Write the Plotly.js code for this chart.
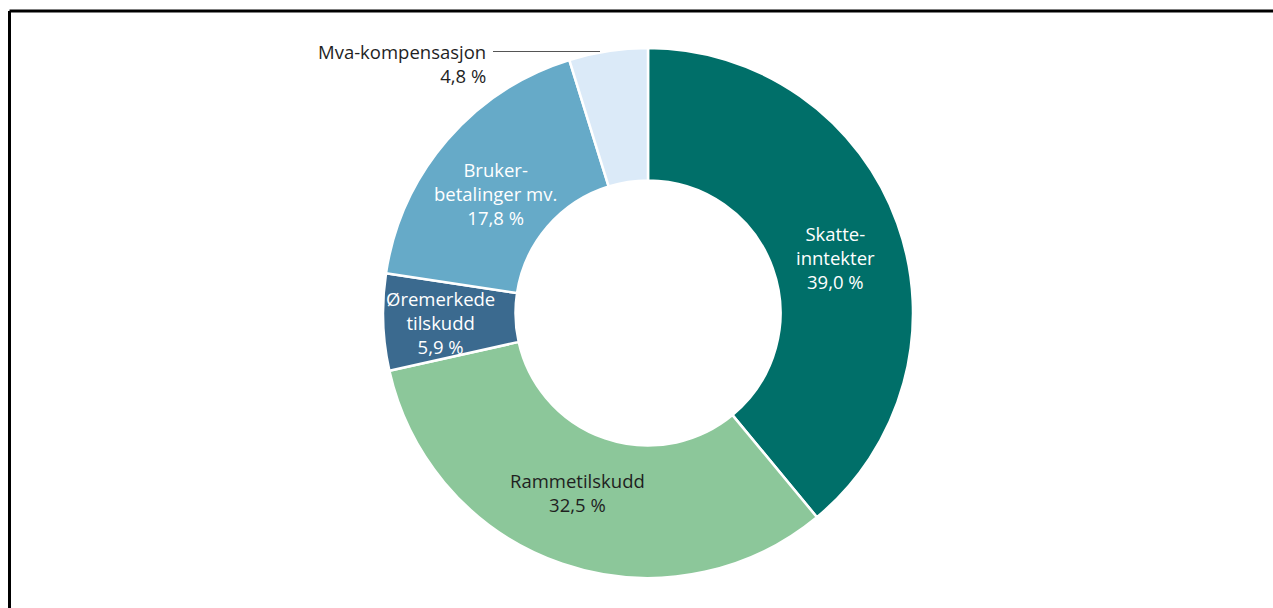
<!DOCTYPE html>
<html>
<head>
<meta charset="utf-8">
<script src="https://cdn.plot.ly/plotly-3.0.1.min.js"></script>
<style>
  html, body { margin: 0; padding: 0; background: #fff; }
  #chart { width: 1273px; height: 608px; }
</style>
</head>
<body>
<div id="chart"></div>
<script>
const categories = ["Skatteinntekter", "Rammetilskudd", "Øremerkede tilskudd", "Brukerbetalinger mv.", "Mva-kompensasjon"];
const values = [39.0, 32.5, 5.9, 17.8, 4.8];
const labelTexts = [
  "Skatte-<br>inntekter<br>39,0 %",
  "Rammetilskudd<br>32,5 %",
  "Øremerkede<br>tilskudd<br>5,9 %",
  "Bruker-<br>betalinger mv.<br>17,8 %",
  "Mva-kompensasjon<br>4,8 %"
];
const colors = ["#006f69", "#8cc79a", "#3b6a8f", "#66aac8", "#dbeaf8"];
const textColors = ["#ffffff", "#1f1f1f", "#ffffff", "#ffffff", "#1f1f1f"];

const W = 1273, H = 608;
const font = "Open Sans, sans-serif";
const fontSize = 18.5;

// label anchor points (pixel centres of each label block) and alignment
const labelPos = [
  { x: 835, y: 257, anchor: "center", align: "center" },
  { x: 577, y: 492, anchor: "center", align: "center" },
  { x: 440, y: 322, anchor: "center", align: "center" },
  { x: 495, y: 194, anchor: "center", align: "center" },
  { x: 488, y: 63, anchor: "right", align: "right" }
];

const trace = {
  type: "pie",
  labels: categories,
  values: values,
  textinfo: "none",
  hoverinfo: "label+value",
  sort: false,
  direction: "clockwise",
  rotation: 0,
  hole: 0.5,
  marker: { colors: colors, line: { color: "#ffffff", width: 2.5 } },
  domain: { x: [383 / W, 913 / W], y: [30 / H, 560 / H] },
  showlegend: false
};

const annotations = labelTexts.map((t, i) => {
  const p = labelPos[i];
  return {
    xref: "paper", yref: "paper",
    x: p.x / W, y: 1 - p.y / H,
    xanchor: p.anchor, yanchor: "middle", align: p.align,
    showarrow: false,
    text: t,
    font: { family: font, size: fontSize, color: textColors[i] }
  };
});

const layout = {
  width: W,
  height: H,
  margin: { l: 0, r: 0, t: 0, b: 0 },
  paper_bgcolor: "#ffffff",
  plot_bgcolor: "#ffffff",
  showlegend: false,
  shapes: [
    { type: "line", xref: "paper", yref: "paper", x0: 9.5 / W, x1: 1.01, y0: 1 - 11 / H, y1: 1 - 11 / H, line: { color: "#000", width: 3 } },
    { type: "line", xref: "paper", yref: "paper", x0: 9.5 / W, x1: 9.5 / W, y0: 1 - 11 / H, y1: -0.01, line: { color: "#000", width: 3 } },
    { type: "line", xref: "paper", yref: "paper", x0: 493 / W, x1: 600 / W, y0: 1 - 51.5 / H, y1: 1 - 51.5 / H, line: { color: "#555", width: 1.2 } }
  ],
  annotations: annotations
};

Plotly.newPlot("chart", [trace], layout, { displayModeBar: false, staticPlot: true });
</script>
</body>
</html>
